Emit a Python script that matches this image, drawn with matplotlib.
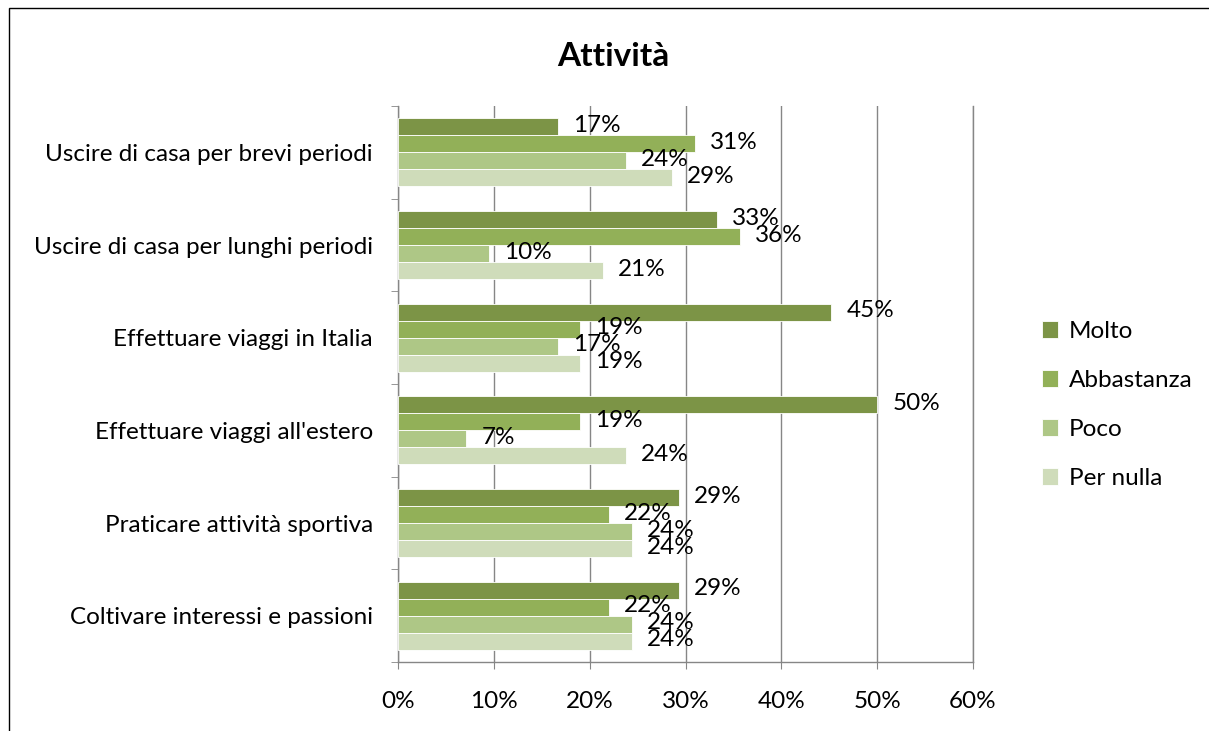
import matplotlib
matplotlib.use("Agg")
import matplotlib.pyplot as plt
import numpy as np
from matplotlib.patches import Rectangle

plt.rcParams["font.family"] = ["Lato", "DejaVu Sans"]

categories = [
    "Uscire di casa per brevi periodi",
    "Uscire di casa per lunghi periodi",
    "Effettuare viaggi in Italia",
    "Effettuare viaggi all'estero",
    "Praticare attività sportiva",
    "Coltivare interessi e passioni",
]
series = ["Molto", "Abbastanza", "Poco", "Per nulla"]
molto = [16.7, 33.3, 45.2, 50.0, 29.3, 29.3]
abbastanza = [31.0, 35.7, 19.0, 19.0, 22.0, 22.0]
poco = [23.8, 9.5, 16.7, 7.1, 24.4, 24.4]
per_nulla = [28.6, 21.4, 19.0, 23.8, 24.4, 24.4]
colors = ["#7C9446", "#92B058", "#AEC786", "#CFDCBA"]

FS = 17.5

fig = plt.figure(figsize=(12.09, 7.31), dpi=100)
ax = fig.add_axes([398 / 1209, 1 - 662 / 731, (973 - 398) / 1209, (662 - 106) / 731])

# outer chart border (cropped on the right/bottom)
fig.patches.append(Rectangle((9 / 1209, -0.05), 1.2, 1 - 8 / 731 + 0.05,
                             transform=fig.transFigure, fill=False,
                             edgecolor="black", lw=1.0))

n = len(categories)
bar_h = 0.183
y = np.arange(n)[::-1].astype(float)
all_vals = [molto, abbastanza, poco, per_nulla]
for i, (name, vals, c) in enumerate(zip(series, all_vals, colors)):
    pos = y + (1.5 - i) * bar_h
    ax.barh(pos, vals, height=bar_h, color=c, edgecolor="white", lw=0.6,
            label=name, zorder=3)
    for p, v in zip(pos, vals):
        ax.annotate(f"{v:.0f}%", (v, p), xytext=(11, 1), textcoords="offset points",
                    ha="left", va="center", fontsize=FS, color="black", zorder=4)

ax.set_xlim(0, 60)
ax.set_ylim(-0.5, n - 0.5)
ax.set_xticks(np.arange(0, 61, 10))
ax.set_xticklabels([f"{t}%" for t in range(0, 61, 10)], fontsize=FS)
ax.set_yticks(y)
ax.set_yticklabels(categories, fontsize=FS)
ax.set_yticks(np.arange(n + 1) - 0.5, minor=True)
ax.tick_params(axis="y", which="major", length=0, pad=18)
ax.tick_params(axis="y", which="minor", length=5, color="#868686")
ax.tick_params(axis="x", length=5, color="#868686", pad=16)
ax.grid(axis="x", color="#868686", lw=1.0, zorder=0)
ax.axvline(60, color="#868686", lw=1.0, zorder=0, clip_on=False)
for s in ["top", "right"]:
    ax.spines[s].set_visible(False)
for s in ["left", "bottom"]:
    ax.spines[s].set_color("#868686")
    ax.spines[s].set_linewidth(1.0)

fig.text(613 / 1209, 1 - 56 / 731, "Attività", ha="center", va="center",
         fontsize=24, fontweight="bold")

fig.legend(loc="center left", bbox_to_anchor=(1020 / 1209, 1 - 405 / 731),
           frameon=False, fontsize=FS, handlelength=0.65, handleheight=0.65,
           labelspacing=1.15, handletextpad=0.45)

fig.savefig("out.png", dpi=100)
